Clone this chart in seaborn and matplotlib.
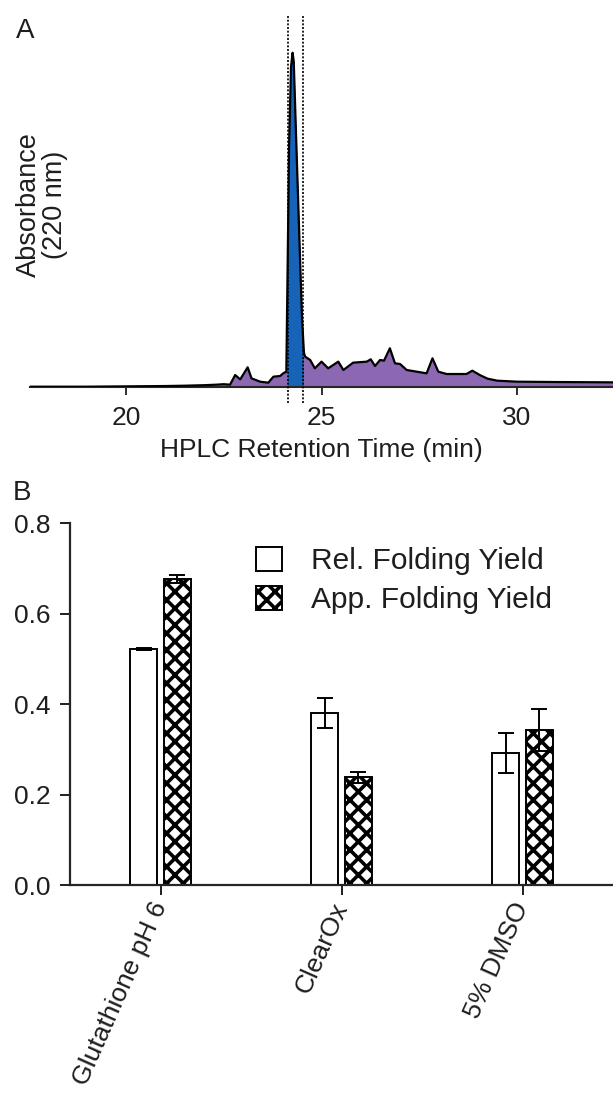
import numpy as np
import pandas as pd
import matplotlib
matplotlib.use("Agg")
import matplotlib.pyplot as plt
import seaborn as sns
from matplotlib.patches import Rectangle

# ---------------- Panel A: HPLC chromatogram ----------------
retention_time = [17.55, 19.0, 20.0, 21.0, 21.5, 22.0, 22.3, 22.5, 22.66, 22.79, 22.92,
                  23.11, 23.21, 23.43, 23.64, 23.77, 23.94, 24.02, 24.10, 24.13, 24.17,
                  24.22, 24.26, 24.29, 24.35, 24.42, 24.50, 24.55, 24.58, 24.71, 24.83,
                  25.0, 25.17, 25.43, 25.56, 25.81, 26.16, 26.26, 26.37, 26.5, 26.6,
                  26.75, 26.88, 27.01, 27.18, 27.69, 27.84, 27.99, 28.2, 28.71, 28.86,
                  29.05, 29.25, 29.5, 30.0, 31.0, 32.46]
absorbance = [0.0, 0.0, 0.1, 0.2, 0.3, 0.45, 0.6, 0.75, 0.6, 3.5, 2.2,
              5.8, 2.5, 1.5, 1.2, 3.0, 3.2, 4.0, 4.5, 32.9, 71.9,
              95.8, 100.0, 97.3, 74.9, 49.4, 21.0, 10.2, 9.0, 8.0, 5.5,
              7.5, 5.5, 7.5, 5.0, 7.2, 7.5, 8.2, 6.2, 8.0, 7.8,
              11.5, 7.0, 6.8, 5.0, 4.0, 8.5, 4.5, 3.8, 3.8, 4.8,
              3.5, 2.4, 1.8, 1.5, 1.4, 1.3]
window = [24.15, 24.53]
xticks_a = [20, 25, 30]

# ---------------- Panel B: folding yields ----------------
conditions = ["Glutathione pH 6", "ClearOx", "5% DMSO"]
series = ["Rel. Folding Yield", "App. Folding Yield"]
rel_yield = [0.522, 0.380, 0.292]
rel_err = [0.002, 0.033, 0.044]
app_yield = [0.677, 0.239, 0.343]
app_err = [0.009, 0.012, 0.047]
yticks_b = [0.0, 0.2, 0.4, 0.6, 0.8]

sns.set_style("ticks")
plt.rcParams["font.family"] = ["Liberation Sans", "DejaVu Sans"]
plt.rcParams["hatch.linewidth"] = 2.6
plt.rcParams["hatch.color"] = "black"

FS = 19
TXT = "#1e1e1e"
W, H = 613, 1093
fig = plt.figure(figsize=(W / 100, H / 100), dpi=100)

# ---- Panel A ----
axA = fig.add_axes([30 / W, 1 - 386.7 / H, 583 / W, 371.7 / H])
purple = "#8C67B2"
blue = "#1763B8"
axA.fill_between(retention_time, absorbance, 0, color=purple, lw=0, zorder=1)
blue_fill = axA.fill_between(retention_time, absorbance, 0, color=blue, lw=0, zorder=2)
clip = Rectangle((window[0], -10), window[1] - window[0], 200, transform=axA.transData)
blue_fill.set_clip_path(clip)
sns.lineplot(x=retention_time, y=absorbance, color="black", lw=1.6, ax=axA, zorder=3)
axA.set_xlim(17.54, 32.46)
axA.set_ylim(0, 111.3)
axA.vlines(window, -4.9, 111.3, colors="black", linestyles=(0, (1.2, 1.0)),
           lw=1.2, clip_on=False, zorder=4)
for s in ["left", "right", "top"]:
    axA.spines[s].set_visible(False)
axA.spines["bottom"].set_linewidth(1.5)
axA.set_yticks([])
axA.set_xticks(xticks_a)
axA.set_xticklabels([str(v) for v in xticks_a])
axA.tick_params(axis="x", length=6, width=1.3, pad=8, labelsize=FS, colors=TXT)
axA.set_xlabel("HPLC Retention Time (min)", fontsize=FS, labelpad=6, color=TXT)
axA.set_ylabel("Absorbance\n(220 nm)", fontsize=FS + 0.5, va="center", linespacing=1.05,
               color=TXT)
axA.yaxis.set_label_coords(12 / 583, 0.49)

# ---- Panel B ----
axB = fig.add_axes([70 / W, 1 - 885.3 / H, 543 / W, 362 / H])
df = pd.DataFrame({
    "condition": conditions * 2,
    "series": [series[0]] * 3 + [series[1]] * 3,
    "value": rel_yield + app_yield,
})
sns.barplot(data=df, x="condition", y="value", hue="series", order=conditions,
            hue_order=series, palette=["white", "white"], edgecolor="black",
            linewidth=1.4, width=0.37, gap=0.2, errorbar=None, legend=False, ax=axB)
for p in axB.containers[1]:
    p.set_hatch("xx")
for cont, errs in zip(axB.containers, [rel_err, app_err]):
    xs = [p.get_x() + p.get_width() / 2 for p in cont]
    ys = [p.get_height() for p in cont]
    axB.errorbar(xs, ys, yerr=errs, fmt="none", ecolor="black", elinewidth=1.4,
                 capsize=6, capthick=1.4, zorder=5)
axB.set_xlim(-0.5, 2.5)
axB.set_ylim(0, 0.8)
axB.set_yticks(yticks_b)
axB.set_yticklabels([f"{v:.1f}" for v in yticks_b])
axB.set_xlabel("")
axB.set_ylabel("")
for s in ["right", "top"]:
    axB.spines[s].set_visible(False)
for s in ["left", "bottom"]:
    axB.spines[s].set_linewidth(1.6)
axB.tick_params(axis="both", length=7, width=1.4, labelsize=FS, colors=TXT)
axB.tick_params(axis="y", pad=7)
axB.tick_params(axis="x", pad=6)
for lab in axB.get_xticklabels():
    lab.set_rotation(66)
    lab.set_ha("right")
    lab.set_va("center")
    lab.set_rotation_mode("anchor")
LFS = 21.5
axB.legend(handles=list(axB.containers), labels=series, loc="upper left",
           bbox_to_anchor=(186 / 543, 0.935), frameon=False, fontsize=LFS,
           handlelength=0.87, handleheight=0.87, handletextpad=0.97,
           labelspacing=0.36, borderpad=0, borderaxespad=0, labelcolor=TXT)

fig.text(25 / W, 1 - 31 / H, "A", fontsize=FS + 1, ha="center", va="center", color=TXT)
fig.text(22 / W, 1 - 493 / H, "B", fontsize=FS + 1, ha="center", va="center", color=TXT)

fig.savefig("out.png", dpi=100)
